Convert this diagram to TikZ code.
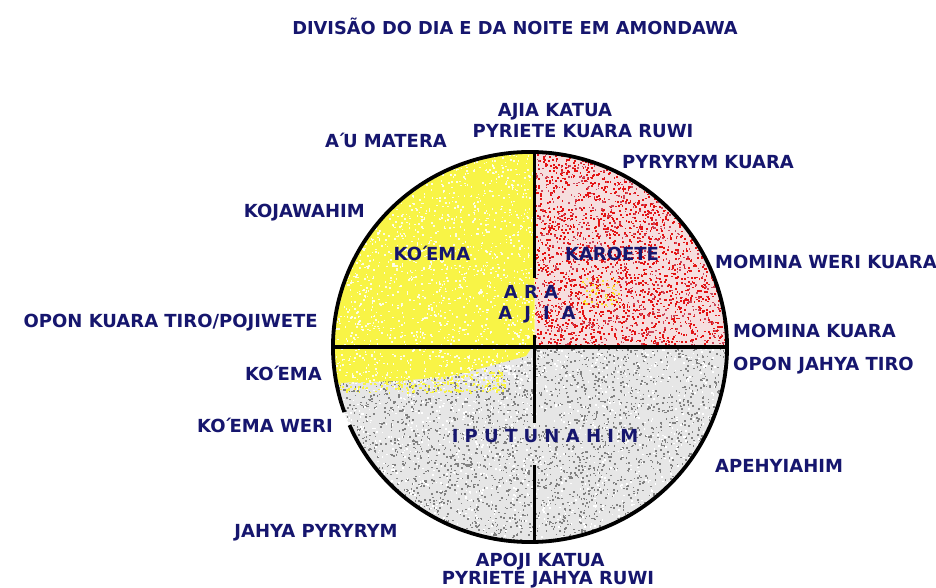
\documentclass[tikz,border=0pt]{standalone}
\usepackage{fontspec}
\setmainfont{DejaVu Sans}
\definecolor{navy}{RGB}{22,22,110}
\definecolor{ybase}{RGB}{248,244,70}
\definecolor{rbase}{RGB}{246,222,222}
\definecolor{rdot}{RGB}{228,20,20}
\definecolor{rdot2}{RGB}{205,70,90}
\definecolor{gbase}{RGB}{230,230,230}
\definecolor{gdot}{RGB}{130,130,130}
\newcommand\acu{\kern-2.5pt´\kern-2.5pt}
\begin{document}
\begin{tikzpicture}[x=1pt,y=1pt,yscale=-1,
  lbl/.style={inner sep=0pt,text=navy,font=\bfseries\fontsize{18}{20}\selectfont},
  ttl/.style={inner sep=0pt,text=navy,font=\bfseries\fontsize{17.8}{20}\selectfont},
  divline/.style={line width=3.6pt,black},
  rim/.style={line width=3.8pt,black}]
\useasboundingbox (0,0) rectangle (936,588);
\fill[white] (0,0) rectangle (936,588);
\coordinate (c) at (530,347);
\pgfmathsetseed{4242}
% yellow quadrant
\begin{scope}
  \clip (c) ellipse [x radius=197, y radius=195];
  \clip (330,148) rectangle (534.5,347);
  \fill[ybase] (330,148) rectangle (534.5,347);
  \foreach \i in {1,...,1500}{\pgfmathsetmacro\px{330+205*rnd}\pgfmathsetmacro\py{148+200*rnd}\fill[white,opacity=0.85] (\px,\py) rectangle ++(1.6,1.6);}
\end{scope}
% red quadrant
\begin{scope}
  \clip (c) ellipse [x radius=197, y radius=195];
  \clip (534.5,148) rectangle (730,347);
  \fill[rbase] (534.5,148) rectangle (730,347);
  \foreach \i in {1,...,2300}{\pgfmathsetmacro\px{534.5+196*rnd}\pgfmathsetmacro\py{148+200*rnd}\fill[rdot] (\px,\py) rectangle ++(1.8,1.8);}
  \foreach \i in {1,...,900}{\pgfmathsetmacro\px{534.5+196*rnd}\pgfmathsetmacro\py{148+200*rnd}\fill[rdot2] (\px,\py) rectangle ++(1.6,1.6);}
  \foreach \i in {1,...,60}{\pgfmathsetmacro\px{600+36*(rnd-0.5)}\pgfmathsetmacro\py{292+30*(rnd-0.5)}\fill[yellow!80!orange,opacity=0.8] (\px,\py) rectangle ++(1.6,1.6);}
\end{scope}
% grey lower half
\begin{scope}
  \clip (c) ellipse [x radius=197, y radius=195];
  \clip (330,347) rectangle (730,545);
  \fill[gbase] (330,347) rectangle (730,545);
  \foreach \i in {1,...,3400}{\pgfmathsetmacro\px{330+400*rnd}\pgfmathsetmacro\py{347+198*rnd}\fill[gdot] (\px,\py) rectangle ++(1.6,1.6);}
  \foreach \i in {1,...,1400}{\pgfmathsetmacro\px{330+400*rnd}\pgfmathsetmacro\py{347+198*rnd}\fill[white] (\px,\py) rectangle ++(1.6,1.6);}
  % yellow band below the horizontal divider
  \fill[ybase] (330,347) -- (532,347) -- (526,356) -- (490,366) -- (450,376) -- (400,381) -- (330,383) -- cycle;
  \foreach \i in {1,...,350}{\pgfmathsetmacro\px{335+170*rnd}\pgfmathsetmacro\py{370+22*rnd}\fill[ybase] (\px,\py) rectangle ++(1.8,1.8);}
  \foreach \i in {1,...,280}{\pgfmathsetmacro\px{330+200*rnd}\pgfmathsetmacro\py{347+36*rnd}\fill[white,opacity=0.85] (\px,\py) rectangle ++(1.6,1.6);}
\end{scope}
% dividers
\coordinate (vt1) at (534.5,152);
\coordinate (vt2) at (534.5,278);
\coordinate (vm1) at (534.5,335);
\coordinate (vm2) at (534.5,423);
\coordinate (vb1) at (534.5,465);
\coordinate (vb2) at (534.5,541);
\coordinate (hl) at (334,347);
\coordinate (hr) at (726,347);
\draw[divline] (vt1) -- (vt2);
\draw[divline] (vm1) -- (vm2);
\draw[divline] (vb1) -- (vb2);
\draw[divline] (hl) -- (hr);
% rim with a small gap at lower left
\draw[rim,shift={(c)}] (160.5:197 and 195) arc[start angle=160.5, end angle=516.4, x radius=197, y radius=195];
% labels
\node[ttl,anchor=base] (title) at (515,35) {DIVISÃO DO DIA E DA NOITE EM AMONDAWA};
\node[lbl,anchor=base] (ajiak) at (555,117) {AJIA KATUA};
\node[lbl,anchor=base] (pkr) at (583,138) {PYRIETE KUARA RUWI};
\node[lbl,anchor=base east] (aum) at (447,148) {A\acu U MATERA};
\node[lbl,anchor=base west] (pk) at (622,168) {PYRYRYM KUARA};
\node[lbl,anchor=base east] (koj) at (365,217) {KOJAWAHIM};
\node[lbl,anchor=base] (koin) at (432,260) {KO\acu EMA};
\node[lbl,anchor=base] (kar) at (612,260) {KAROETE};
\node[lbl,anchor=base west] (mwk) at (715,268) {MOMINA WERI KUARA};
\node[lbl,anchor=base] (ara) at (531,298) {A R A};
\node[lbl,anchor=base] (ajia) at (537,319) {A\hspace{12pt}J\hspace{12pt}I\hspace{12pt}A};
\node[lbl,anchor=base east] (okt) at (318,327) {OPON KUARA TIRO/POJIWETE};
\node[lbl,anchor=base west] (mk) at (733,337) {MOMINA KUARA};
\node[lbl,anchor=base west] (ojt) at (733,370) {OPON JAHYA TIRO};
\node[lbl,anchor=base east] (kol) at (322,380) {KO\acu EMA};
\node[lbl,anchor=base east] (kow) at (333,432) {KO\acu EMA WERI};
\node[lbl,anchor=base] (iput) at (545,442) {I P U T U N A H I M};
\node[lbl,anchor=base west] (ape) at (715,472) {APEHYIAHIM};
\node[lbl,anchor=base] (jp) at (316,537) {JAHYA PYRYRYM};
\node[lbl,anchor=base] (apk) at (540,566) {APOJI KATUA};
\node[lbl,anchor=base] (pjr) at (548,584) {PYRIETE JAHYA RUWI};
\end{tikzpicture}
\end{document}
